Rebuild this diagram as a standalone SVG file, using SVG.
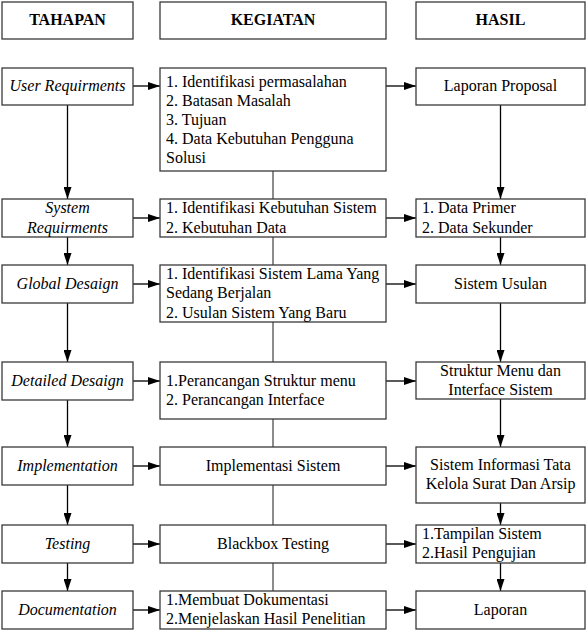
<svg xmlns="http://www.w3.org/2000/svg" width="587" height="637" viewBox="0 0 587 637">
<defs>
<marker id="ah" viewBox="0 0 12 8" refX="12" refY="4" markerWidth="12" markerHeight="8" markerUnits="userSpaceOnUse" orient="auto">
<path d="M0,0 L12,4 L0,8 Z" fill="#000"/>
</marker>
<style>
rect{fill:#fff;stroke:#3a3a3a;stroke-width:1.3}
text{font-family:'Liberation Serif','Times New Roman',serif;font-size:16px;fill:#000}
.h{font-weight:bold;text-anchor:middle}
.i{font-style:italic;text-anchor:middle}
.c{text-anchor:middle}
.a{stroke:#000;stroke-width:1.3;fill:none;marker-end:url(#ah)}
.g{stroke:#666;stroke-width:1.5;fill:none}
</style>
</defs>
<rect width="587" height="637" style="fill:#fff;stroke:none"/>
<g id="connectors">
<line class="g" x1="273" y1="171" x2="273" y2="591"/>
<line class="a" x1="67.5" y1="105" x2="67.5" y2="199"/>
<line class="a" x1="67.5" y1="237" x2="67.5" y2="265"/>
<line class="a" x1="67.5" y1="303" x2="67.5" y2="362"/>
<line class="a" x1="67.5" y1="400" x2="67.5" y2="447"/>
<line class="a" x1="67.5" y1="485" x2="67.5" y2="525"/>
<line class="a" x1="67.5" y1="563" x2="67.5" y2="591"/>
<line class="a" x1="500.5" y1="105" x2="500.5" y2="199"/>
<line class="a" x1="500.5" y1="237" x2="500.5" y2="265"/>
<line class="a" x1="500.5" y1="303" x2="500.5" y2="362"/>
<line class="a" x1="500.5" y1="399" x2="500.5" y2="447"/>
<line class="a" x1="500.5" y1="503" x2="500.5" y2="525"/>
<line class="a" x1="500.5" y1="563" x2="500.5" y2="591"/>
<line class="a" x1="133" y1="86" x2="160" y2="86"/>
<line class="a" x1="386" y1="86" x2="416" y2="86"/>
<line class="a" x1="133" y1="218" x2="160" y2="218"/>
<line class="a" x1="386" y1="218" x2="416" y2="218"/>
<line class="a" x1="133" y1="284" x2="160" y2="284"/>
<line class="a" x1="386" y1="284" x2="416" y2="284"/>
<line class="a" x1="133" y1="381" x2="160" y2="381"/>
<line class="a" x1="386" y1="381" x2="416" y2="381"/>
<line class="a" x1="133" y1="466" x2="160" y2="466"/>
<line class="a" x1="386" y1="466" x2="416" y2="466"/>
<line class="a" x1="133" y1="544" x2="160" y2="544"/>
<line class="a" x1="386" y1="544" x2="416" y2="544"/>
<line class="a" x1="133" y1="610" x2="160" y2="610"/>
<line class="a" x1="386" y1="610" x2="416" y2="610"/>
</g>
<g id="h-tahapan"><rect x="2" y="2" width="131" height="37"/><text class="h" x="67.5" y="25">TAHAPAN</text></g>
<g id="h-kegiatan"><rect x="160" y="2" width="226" height="37"/><text class="h" x="273" y="25">KEGIATAN</text></g>
<g id="h-hasil"><rect x="416" y="2" width="169" height="37"/><text class="h" x="500.5" y="25">HASIL</text></g>

<g id="t1"><rect x="2" y="68" width="131" height="37"/><text class="i" x="67.5" y="91">User Requirments</text></g>
<g id="k1"><rect x="160" y="68" width="226" height="103"/>
<text x="166" y="87">1. Identifikasi permasalahan</text>
<text x="166" y="106">2. Batasan Masalah</text>
<text x="166" y="125">3. Tujuan</text>
<text x="166" y="144">4. Data Kebutuhan Pengguna</text>
<text x="166" y="163">Solusi</text></g>
<g id="r1"><rect x="416" y="68" width="169" height="37"/><text class="c" x="500.5" y="91">Laporan Proposal</text></g>

<g id="t2"><rect x="2" y="199" width="131" height="38"/><text class="i" x="67.5" y="213">System</text><text class="i" x="67.5" y="233">Requirments</text></g>
<g id="k2"><rect x="160" y="199" width="226" height="38"/><text x="166" y="213">1. Identifikasi Kebutuhan Sistem</text><text x="166" y="233">2. Kebutuhan Data</text></g>
<g id="r2"><rect x="416" y="199" width="169" height="38"/><text x="422" y="213">1. Data Primer</text><text x="422" y="233">2. Data Sekunder</text></g>

<g id="t3"><rect x="2" y="265" width="131" height="38"/><text class="i" x="67.5" y="289">Global Desaign</text></g>
<g id="k3"><rect x="160" y="265" width="226" height="57"/><text x="166" y="279">1. Identifikasi Sistem Lama Yang</text><text x="166" y="298">Sedang Berjalan</text><text x="166" y="318">2. Usulan Sistem Yang Baru</text></g>
<g id="r3"><rect x="416" y="265" width="169" height="38"/><text class="c" x="500.5" y="289">Sistem Usulan</text></g>

<g id="t4"><rect x="2" y="362" width="131" height="38"/><text class="i" x="67.5" y="386">Detailed Desaign</text></g>
<g id="k4"><rect x="160" y="362" width="226" height="57"/><text x="166" y="386">1.Perancangan Struktur menu</text><text x="166" y="405">2. Perancangan Interface</text></g>
<g id="r4"><rect x="416" y="362" width="169" height="37"/><text class="c" x="500.5" y="376">Struktur Menu dan</text><text class="c" x="500.5" y="395">Interface Sistem</text></g>

<g id="t5"><rect x="2" y="447" width="131" height="38"/><text class="i" x="67.5" y="471">Implementation</text></g>
<g id="k5"><rect x="160" y="447" width="226" height="38"/><text class="c" x="273" y="471">Implementasi Sistem</text></g>
<g id="r5"><rect x="416" y="447" width="169" height="56"/><text class="c" x="500.5" y="470">Sistem Informasi Tata</text><text class="c" x="500.5" y="489">Kelola Surat Dan Arsip</text></g>

<g id="t6"><rect x="2" y="525" width="131" height="38"/><text class="i" x="67.5" y="549">Testing</text></g>
<g id="k6"><rect x="160" y="525" width="226" height="38"/><text class="c" x="273" y="549">Blackbox Testing</text></g>
<g id="r6"><rect x="416" y="525" width="169" height="38"/><text x="422" y="539">1.Tampilan Sistem</text><text x="422" y="558">2.Hasil Pengujian</text></g>

<g id="t7"><rect x="2" y="591" width="131" height="38"/><text class="i" x="67.5" y="615">Documentation</text></g>
<g id="k7"><rect x="160" y="591" width="226" height="38"/><text x="166" y="605">1.Membuat Dokumentasi</text><text x="166" y="624">2.Menjelaskan Hasil Penelitian</text></g>
<g id="r7"><rect x="416" y="591" width="169" height="38"/><text class="c" x="500.5" y="615">Laporan</text></g>
</svg>
